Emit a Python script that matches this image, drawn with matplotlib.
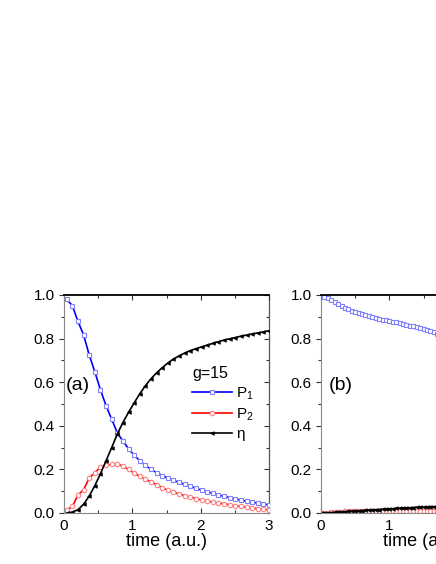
import numpy as np
import matplotlib
matplotlib.use("Agg")
import matplotlib.pyplot as plt
from matplotlib.ticker import MultipleLocator

plt.rcParams["font.family"] = ["Liberation Sans", "DejaVu Sans"]
plt.rcParams["mathtext.fontset"] = "custom"
plt.rcParams["mathtext.rm"] = "Liberation Sans"
plt.rcParams["mathtext.default"] = "regular"

# panel (a), g=15 : sampled times and curves
T_A = np.linspace(0.04, 3.0, 37)
P1_A = [0.980, 0.951, 0.879, 0.817, 0.725, 0.648, 0.565, 0.492, 0.430, 0.368,
        0.330, 0.295, 0.265, 0.240, 0.218, 0.200, 0.185, 0.172, 0.160, 0.150,
        0.140, 0.131, 0.122, 0.113, 0.105, 0.097, 0.090, 0.083, 0.076, 0.070,
        0.064, 0.059, 0.054, 0.050, 0.045, 0.041, 0.037]
P2_A = [0.015, 0.030, 0.082, 0.107, 0.160, 0.185, 0.210, 0.218, 0.224, 0.226,
        0.214, 0.200, 0.183, 0.168, 0.155, 0.142, 0.130, 0.116, 0.104, 0.095,
        0.087, 0.080, 0.073, 0.066, 0.060, 0.055, 0.050, 0.046, 0.042, 0.038,
        0.033, 0.030, 0.027, 0.023, 0.020, 0.017, 0.014]
ETA_A = [0.000, 0.004, 0.015, 0.040, 0.078, 0.125, 0.180, 0.240, 0.300, 0.362,
         0.415, 0.462, 0.505, 0.547, 0.584, 0.616, 0.643, 0.667, 0.688, 0.706,
         0.721, 0.734, 0.745, 0.754, 0.762, 0.770, 0.778, 0.786, 0.793, 0.799,
         0.805, 0.811, 0.816, 0.821, 0.826, 0.831, 0.836]

# panel (b): only the left part is visible in the figure
T_B = np.linspace(0.0, 1.8, 37)
P1_B = [1.000, 0.993, 0.985, 0.977, 0.969, 0.960, 0.951, 0.942, 0.934, 0.927,
        0.921, 0.916, 0.911, 0.906, 0.902, 0.898, 0.894, 0.890, 0.887, 0.884,
        0.880, 0.877, 0.874, 0.871, 0.867, 0.864, 0.860, 0.856, 0.852, 0.848,
        0.843, 0.838, 0.833, 0.828, 0.823, 0.818, 0.813]
P2_B = [0.000, 0.001, 0.002, 0.003, 0.004, 0.005, 0.006, 0.007, 0.008, 0.008,
        0.009, 0.009, 0.009, 0.009, 0.009, 0.009, 0.009, 0.009, 0.009, 0.009,
        0.009, 0.009, 0.009, 0.009, 0.009, 0.009, 0.009, 0.009, 0.009, 0.009,
        0.009, 0.009, 0.009, 0.010, 0.010, 0.010, 0.010]
ETA_B = [0.000, 0.0005, 0.001, 0.002, 0.003, 0.004, 0.005, 0.006, 0.007, 0.008,
         0.009, 0.010, 0.011, 0.012, 0.013, 0.014, 0.015, 0.016, 0.017, 0.018,
         0.019, 0.020, 0.021, 0.022, 0.023, 0.024, 0.024, 0.025, 0.026, 0.027,
         0.027, 0.028, 0.029, 0.029, 0.030, 0.031, 0.031]

LABELS = ["P$_{1}$", "P$_{2}$", "\u03b7"]


def draw_panel(ax, t, p1, p2, eta, tag):
    h1, = ax.plot(t, p1, color="#0000ff", lw=1.2, marker="s", ms=3.2,
                  mfc="white", mec="#8080ff", mew=0.8)
    h2, = ax.plot(t, p2, color="#ff0000", lw=1.2, marker="o", ms=3.2,
                  mfc="white", mec="#ff8080", mew=0.8)
    h3, = ax.plot(t, eta, color="black", lw=1.2, marker="<", ms=2.6,
                  mfc="black", mec="black", mew=0.5)
    ax.set_xlim(0, 3)
    ax.set_ylim(0, 1)
    ax.xaxis.set_major_locator(MultipleLocator(1))
    ax.xaxis.set_minor_locator(MultipleLocator(0.5))
    ax.yaxis.set_major_locator(MultipleLocator(0.2))
    ax.yaxis.set_minor_locator(MultipleLocator(0.1))
    ax.yaxis.set_major_formatter(matplotlib.ticker.FormatStrFormatter("%.1f"))
    ax.tick_params(axis="x", which="both", direction="in", top=True,
                   labelsize=11, pad=4)
    ax.tick_params(axis="y", which="both", direction="out", right=False,
                   labelsize=11, pad=3)
    ax.tick_params(which="major", length=3.5, width=0.8, color="#333333")
    ax.tick_params(which="minor", length=2.0, width=0.8, color="#333333")
    sec = ax.secondary_yaxis("right")
    sec.yaxis.set_major_locator(MultipleLocator(0.2))
    sec.yaxis.set_minor_locator(MultipleLocator(0.1))
    sec.tick_params(which="both", direction="in", labelright=False,
                    width=0.8, color="#333333")
    sec.tick_params(which="major", length=3.5)
    sec.tick_params(which="minor", length=2.0)
    sec.spines["right"].set_color("#555555")
    sec.spines["right"].set_linewidth(0.9)
    ax.spines["left"].set_color("#888888")
    ax.spines["bottom"].set_color("#888888")
    ax.spines["right"].set_visible(False)
    ax.spines["top"].set_color("black")
    ax.spines["top"].set_linewidth(1.3)
    ax.set_xlabel("time (a.u.)", fontsize=13, labelpad=0)
    ax.text(0.03, 0.585, tag, fontsize=14, va="center", ha="left")
    return [h1, h2, h3]


fig = plt.figure(figsize=(4.36, 5.64), dpi=100)
ax_a = fig.add_axes([64 / 436, 1 - 513 / 564, 205 / 436, 218 / 564])
ax_b = fig.add_axes([321 / 436, 1 - 513 / 564, 205 / 436, 218 / 564])

handles = draw_panel(ax_a, T_A, P1_A, P2_A, ETA_A, "(a)")
draw_panel(ax_b, T_B, P1_B, P2_B, ETA_B, "(b)")
ax_b.texts[0].set_x(0.12)

leg = ax_a.legend(handles, LABELS, title="g=15", loc="upper left",
                  bbox_to_anchor=(0.625, 0.675), frameon=False, fontsize=11,
                  title_fontsize=11.5, alignment="left", handlelength=2.6,
                  handletextpad=0.3, labelspacing=0.3, borderpad=0,
                  borderaxespad=0, numpoints=1)

fig.savefig("out.png", dpi=100)
